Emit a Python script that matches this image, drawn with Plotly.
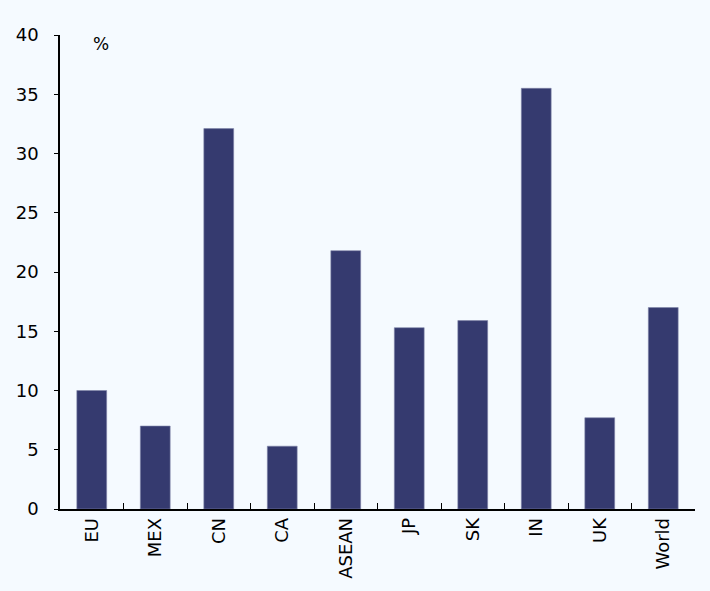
import plotly.graph_objects as go

categories = ["EU", "MEX", "CN", "CA", "ASEAN", "JP", "SK", "IN", "UK", "World"]
values = [10.0, 7.0, 32.1, 5.3, 21.8, 15.3, 15.9, 35.5, 7.7, 17.0]
y_ticks = [0, 5, 10, 15, 20, 25, 30, 35, 40]

BG = "#F5FAFF"
BAR = "#353A6F"

fig = go.Figure(go.Bar(
    x=categories, y=values,
    marker=dict(color=BAR, line=dict(color="#7F84A8", width=0.6)),
    width=0.47,
))

fig.update_layout(
    width=710, height=591,
    paper_bgcolor=BG, plot_bgcolor=BG,
    margin=dict(l=60, r=15, t=35, b=82),
    font=dict(family="DejaVu Sans", size=18, color="#000000"),
    showlegend=False,
)
fig.update_xaxes(
    type="category", tickangle=-90,
    showline=True, linecolor="#000000", linewidth=1.5,
    ticks="inside", tickson="boundaries", ticklen=6, tickcolor="#000000",
    showgrid=False, tickfont=dict(size=18),
    range=[-0.5, 9.5],
)
fig.update_yaxes(
    range=[0, 40], tickvals=y_ticks,
    showline=True, linecolor="#000000", linewidth=1.5,
    ticks="outside", ticklen=4, tickcolor="#000000",
    showgrid=False, zeroline=False, ticklabelstandoff=12,
)
fig.add_annotation(
    x=0.065, y=0.98, xref="paper", yref="paper",
    text="%", showarrow=False, font=dict(size=17),
    xanchor="center", yanchor="middle",
)
fig.write_html(
    "out.html",
    config={"displayModeBar": False},
    post_script="document.body.style.margin='0';document.body.style.background='#F5FAFF';",
)
